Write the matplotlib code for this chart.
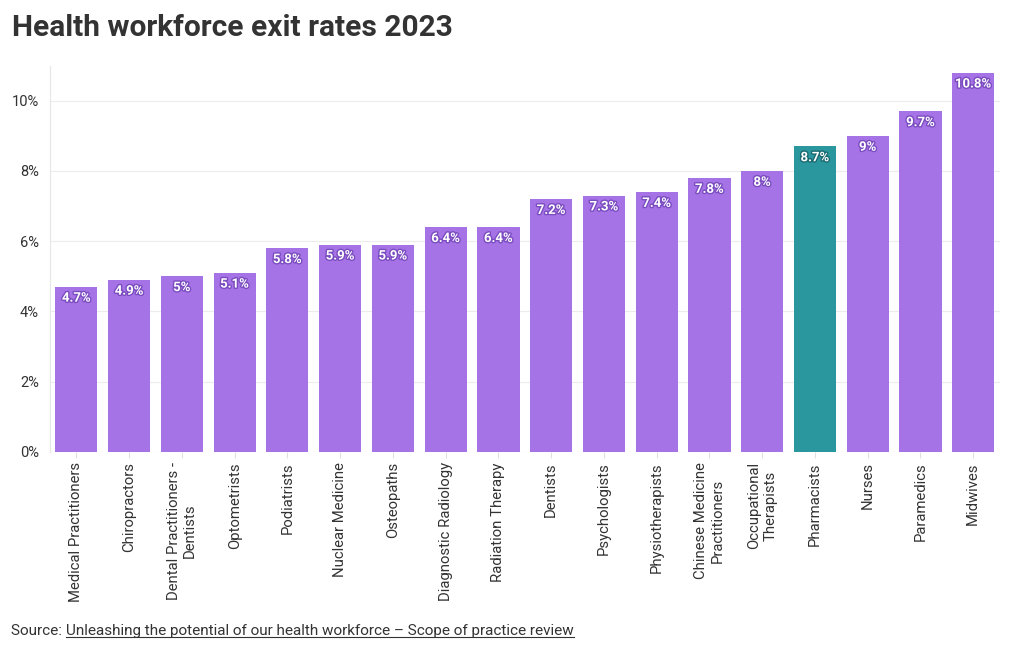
import numpy as np
import matplotlib.pyplot as plt
import matplotlib.patheffects as pe
from matplotlib.lines import Line2D

plt.rcParams['font.family'] = ['Roboto', 'DejaVu Sans']

# data
professions = ['Medical Practitioners', 'Chiropractors', 'Dental Practitioners -\nDentists',
               'Optometrists', 'Podiatrists', 'Nuclear Medicine', 'Osteopaths',
               'Diagnostic Radiology', 'Radiation Therapy', 'Dentists', 'Psychologists',
               'Physiotherapists', 'Chinese Medicine\nPractitioners', 'Occupational\nTherapists',
               'Pharmacists', 'Nurses', 'Paramedics', 'Midwives']
exit_rates = [4.7, 4.9, 5, 5.1, 5.8, 5.9, 5.9, 6.4, 6.4, 7.2, 7.3, 7.4, 7.8, 8, 8.7, 9, 9.7, 10.8]
highlight = 'Pharmacists'
yticks = [0, 2, 4, 6, 8, 10]

purple = '#a673e6'
purple_dark = '#7a4cc0'
teal = '#2a979f'
teal_dark = '#1a6a70'

fig = plt.figure(figsize=(10.2, 6.5), dpi=100)
ax = fig.add_axes([0.049, 0.305, 0.931, 0.594])

x = np.arange(len(professions))
colors = [teal if p == highlight else purple for p in professions]
bars = ax.bar(x, exit_rates, width=0.8, color=colors, zorder=2)

for xi, v, p in zip(x, exit_rates, professions):
    dark = teal_dark if p == highlight else purple_dark
    ax.annotate('{:g}%'.format(v), (xi, v), xytext=(0, -3.5), textcoords='offset points',
                ha='center', va='top', fontsize=9.5, fontweight='bold', color='white',
                path_effects=[pe.withStroke(linewidth=2, foreground=dark)], zorder=3)

ax.set_xlim(-0.5, len(professions) - 0.5)
ax.set_ylim(0, 11)
ax.set_yticks(yticks)
ax.set_yticklabels(['{}%'.format(t) for t in yticks])
ax.set_xticks(x)
ax.set_xticklabels(professions, rotation=90, ha='center', va='top')
ax.tick_params(axis='y', length=0, labelsize=10.5, colors='#333333', pad=8)
ax.tick_params(axis='x', length=4, color='#e0e0e0', labelsize=10.7, labelcolor='#333333')
ax.grid(axis='y', color='#ececec', linewidth=0.8, zorder=0)
for s in ['top', 'right', 'bottom']:
    ax.spines[s].set_visible(False)
ax.spines['left'].set_color('#e6e6e6')

fig.text(0.012, 0.957, 'Health workforce exit rates 2023', fontsize=21.5, fontweight='bold',
         color='#333333', va='center')

# source with underlined link
src = fig.text(0.011, 0.029, 'Source: ', fontsize=11, color='#333333', va='center')
fig.canvas.draw()
bb = src.get_window_extent()
inv = fig.transFigure.inverted()
x0 = inv.transform((bb.x1, 0))[0]
link = fig.text(x0, 0.029, 'Unleashing the potential of our health workforce \u2013 Scope of practice review',
                fontsize=11, color='#333333', va='center')
fig.canvas.draw()
lb = link.get_window_extent()
(lx0, ly0), (lx1, _) = inv.transform([(lb.x0, lb.y0 + 1), (lb.x1, lb.y0)])
fig.add_artist(Line2D([lx0, lx1], [ly0, ly0], color='#333333', linewidth=0.8,
                      transform=fig.transFigure))

fig.savefig('out.png', dpi=100)
